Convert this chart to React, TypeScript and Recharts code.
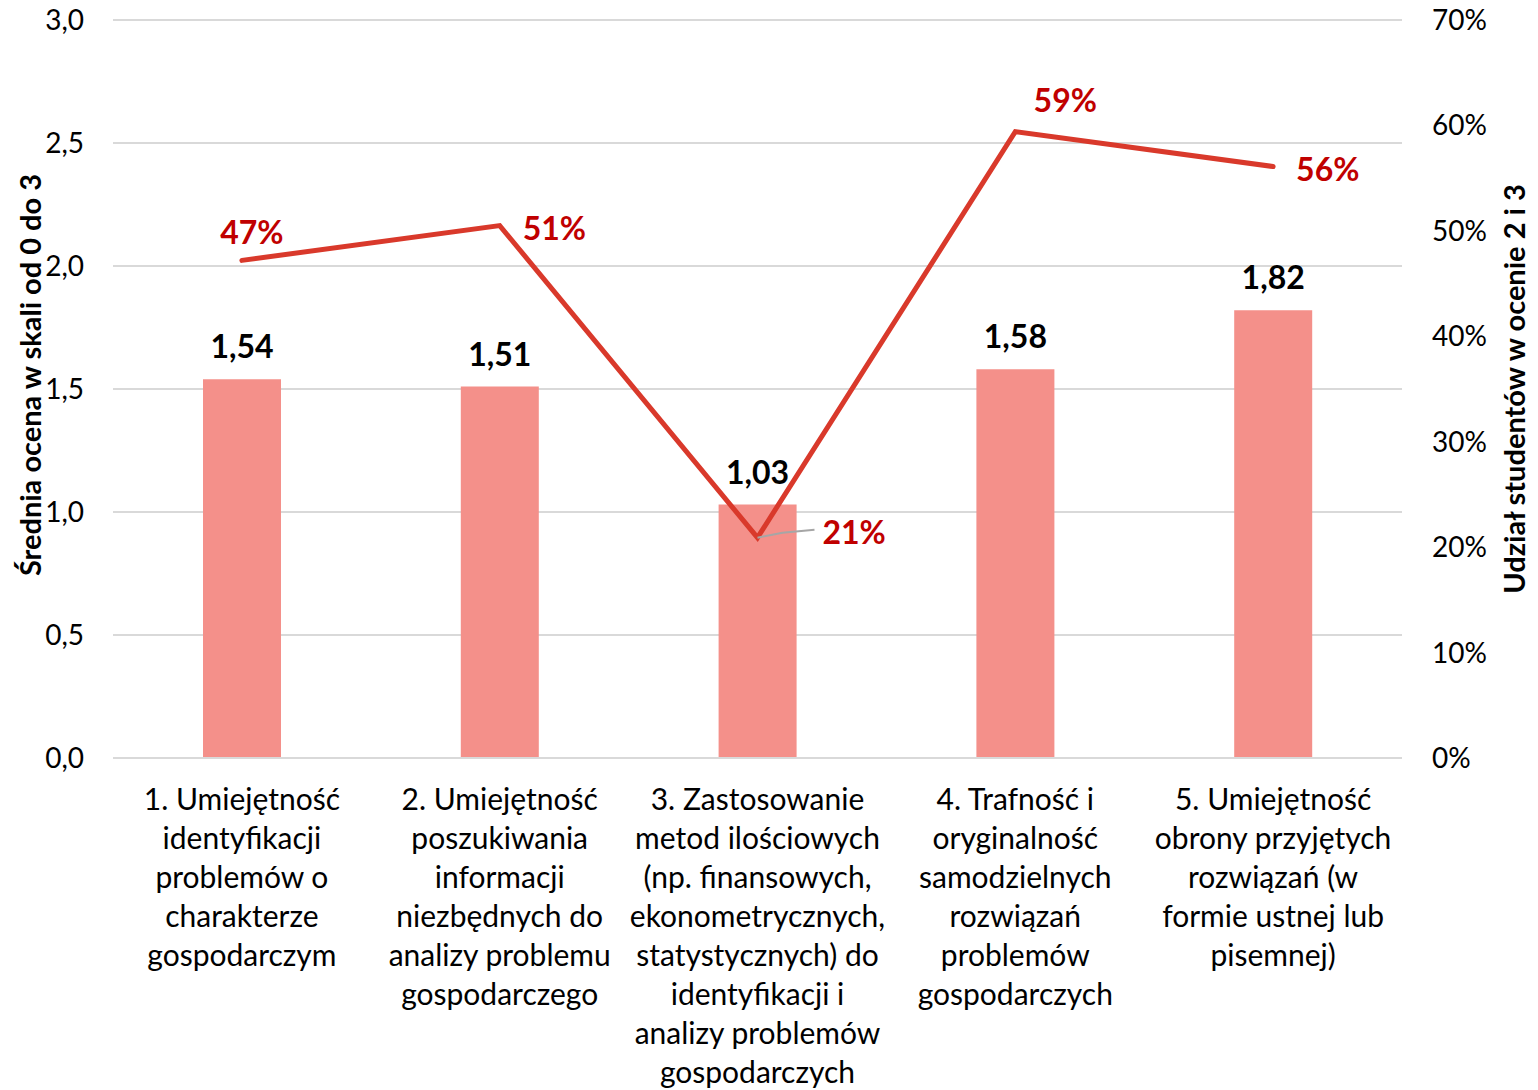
import React from 'react';
import {
  ComposedChart,
  Bar,
  Line,
  XAxis,
  YAxis,
  CartesianGrid,
  LabelList,
} from 'recharts';

const categories = [
  '1. Umiejętność\nidentyfikacji\nproblemów o\ncharakterze\ngospodarczym',
  '2. Umiejętność\nposzukiwania\ninformacji\nniezbędnych do\nanalizy problemu\ngospodarczego',
  '3. Zastosowanie\nmetod ilościowych\n(np. finansowych,\nekonometrycznych,\nstatystycznych) do\nidentyfikacji i\nanalizy problemów\ngospodarczych',
  '4. Trafność i\noryginalność\nsamodzielnych\nrozwiązań\nproblemów\ngospodarczych',
  '5. Umiejętność\nobrony przyjętych\nrozwiązań (w\nformie ustnej lub\npisemnej)',
];

const avgScore = [1.54, 1.51, 1.03, 1.58, 1.82];
const shareTwoThree = [0.472, 0.505, 0.209, 0.594, 0.561];

const leftTicks = [0, 0.5, 1, 1.5, 2, 2.5, 3];
const rightTicks = [0, 0.1, 0.2, 0.3, 0.4, 0.5, 0.6, 0.7];

const data = categories.map((name, i) => ({
  name,
  avg: avgScore[i],
  share: shareTwoThree[i],
}));

const FONT = 'Lato, "Open Sans", sans-serif';

const fmtComma = (v: number, digits: number) => v.toFixed(digits).replace('.', ',');
const fmtPct = (v: number) => `${Math.round(v * 100)}%`;

function CategoryTick(props: any) {
  const { x, y, payload } = props;
  const lines = String(payload.value).split('\n');
  return (
    <text x={x} y={y} textAnchor="middle" fontFamily={FONT} fontSize={30} fill="#000">
      {lines.map((ln, i) => (
        <tspan key={i} x={x} dy={i === 0 ? 52 : 39}>
          {ln}
        </tspan>
      ))}
    </text>
  );
}

function BarValueLabel(props: any) {
  const { x, y, width, value } = props;
  return (
    <text
      x={x + width / 2}
      y={y - 21}
      textAnchor="middle"
      fontFamily={FONT}
      fontWeight={700}
      fontSize={32}
      fill="#000"
    >
      {fmtComma(value, 2)}
    </text>
  );
}

// placement of the percentage labels, as in the original chart
function ShareLabel(props: any) {
  const { x, y, value, index } = props;
  const common = {
    fontFamily: FONT,
    fontWeight: 700,
    fontSize: 32,
    fill: '#c00000',
  };
  if (index === 0) {
    return (
      <text x={x + 10} y={y - 16} textAnchor="middle" {...common}>
        {fmtPct(value)}
      </text>
    );
  }
  if (index === 2) {
    return (
      <g>
        <path d={`M${x},${y} L${x + 25},${y - 5} L${x + 57},${y - 8}`} stroke="#a6a6a6" strokeWidth={2} fill="none" />
        <text x={x + 65} y={y + 6} textAnchor="start" {...common}>
          {fmtPct(value)}
        </text>
      </g>
    );
  }
  if (index === 3) {
    return (
      <text x={x + 50} y={y - 20} textAnchor="middle" {...common}>
        {fmtPct(value)}
      </text>
    );
  }
  return (
    <text x={x + 23} y={y + 14} textAnchor="start" {...common}>
      {fmtPct(value)}
    </text>
  );
}

export default function App() {
  return (
    <div style={{ position: 'absolute', left: 0, top: 0, background: '#fff' }}>
      <ComposedChart
        width={1538}
        height={1090}
        data={data}
        margin={{ top: 20, right: 0, bottom: 0, left: 0 }}
      >
        <CartesianGrid yAxisId="left" vertical={false} stroke="#d9d9d9" strokeWidth={2} />
        <XAxis
          dataKey="name"
          height={332}
          tick={<CategoryTick />}
          tickLine={false}
          axisLine={{ stroke: '#d9d9d9', strokeWidth: 2 }}
          tickSize={0}
          tickMargin={0}
          interval={0}
        />
        <YAxis
          yAxisId="left"
          width={113}
          domain={[0, 3]}
          ticks={leftTicks}
          tickFormatter={(v: number) => fmtComma(v, 1)}
          axisLine={false}
          tickLine={false}
          tickSize={0}
          tickMargin={29}
          tick={{ fontFamily: FONT, fontSize: 28, fill: '#000' }}
          label={{
            value: 'Średnia ocena w skali od 0 do 3',
            angle: -90,
            position: 'center',
            dx: -26,
            dy: -14,
            style: { fontFamily: FONT, fontWeight: 700, fontSize: 29, fill: '#000', textAnchor: 'middle' },
          }}
        />
        <YAxis
          yAxisId="right"
          orientation="right"
          width={136}
          domain={[0, 0.7]}
          ticks={rightTicks}
          tickFormatter={fmtPct}
          axisLine={false}
          tickLine={false}
          tickSize={0}
          tickMargin={30}
          tick={{ fontFamily: FONT, fontSize: 28, fill: '#000', textAnchor: 'start' }}
          label={{
            value: 'Udział studentów w ocenie 2 i 3',
            angle: -90,
            position: 'center',
            dx: 45,
            style: { fontFamily: FONT, fontWeight: 700, fontSize: 29, fill: '#000', textAnchor: 'middle' },
          }}
        />
        <Bar yAxisId="left" dataKey="avg" fill="#f4908a" barSize={78} isAnimationActive={false}>
          <LabelList dataKey="avg" content={<BarValueLabel />} />
        </Bar>
        <Line
          yAxisId="right"
          dataKey="share"
          type="linear"
          stroke="#d9392b"
          strokeWidth={5}
          strokeLinecap="round"
          dot={false}
          activeDot={false}
          isAnimationActive={false}
        >
          <LabelList dataKey="share" content={<ShareLabel />} />
        </Line>
      </ComposedChart>
    </div>
  );
}
